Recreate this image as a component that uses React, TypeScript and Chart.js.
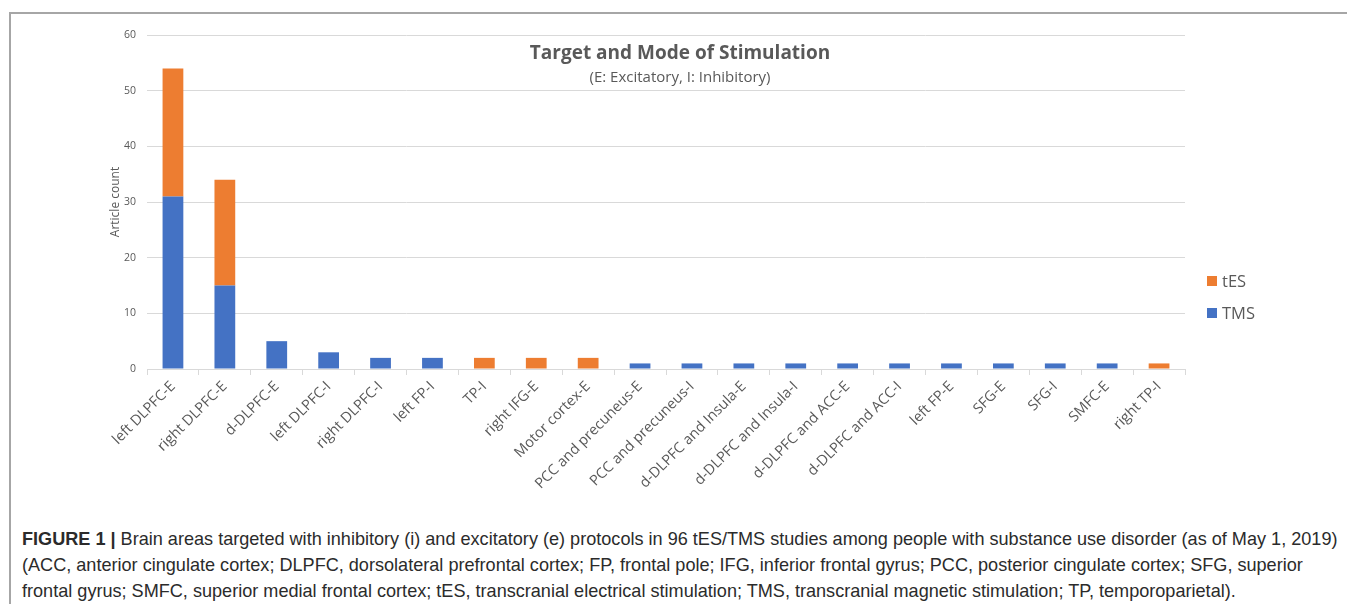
import React, { useEffect, useRef } from "react";
import { Chart, registerables } from "chart.js";

Chart.register(...registerables);

const categories: string[] = [
  "left DLPFC-E",
  "right DLPFC-E",
  "d-DLPFC-E",
  "left DLPFC-I",
  "right DLPFC-I",
  "left FP-I",
  "TP-I",
  "right IFG-E",
  "Motor cortex-E",
  "PCC and precuneus-E",
  "PCC and precuneus-I",
  "d-DLPFC and Insula-E",
  "d-DLPFC and Insula-I",
  "d-DLPFC and ACC-E",
  "d-DLPFC and ACC-I",
  "left FP-E",
  "SFG-E",
  "SFG-I",
  "SMFC-E",
  "right TP-I",
];

const tmsValues: number[] = [31, 15, 5, 3, 2, 2, 0, 0, 0, 1, 1, 1, 1, 1, 1, 1, 1, 1, 1, 0];
const tesValues: number[] = [23, 19, 0, 0, 0, 0, 2, 2, 2, 0, 0, 0, 0, 0, 0, 0, 0, 0, 0, 1];

const yMin = 0;
const yMax = 60;
const yStep = 10;

const chartTitle = "Target and Mode of Stimulation";
const chartSubtitle = "(E: Excitatory, I: Inhibitory)";
const yAxisTitle = "Article count";

const seriesLabels = { tms: "TMS", tes: "tES" };
const seriesColors = { tms: "#4472C4", tes: "#ED7D31" };

const captionLines: string[] = [
  " Brain areas targeted with inhibitory (i) and excitatory (e) protocols in 96 tES/TMS studies among people with substance use disorder (as of May 1, 2019)",
  "(ACC, anterior cingulate cortex; DLPFC, dorsolateral prefrontal cortex; FP, frontal pole; IFG, inferior frontal gyrus; PCC, posterior cingulate cortex; SFG, superior",
  "frontal gyrus; SMFC, superior medial frontal cortex; tES, transcranial electrical stimulation; TMS, transcranial magnetic stimulation; TP, temporoparietal).",
];
const captionLead = "FIGURE 1 |";

const titlePlugin = {
  id: "overlayTitle",
  afterDraw(chart: any) {
    const ctx = chart.ctx;
    ctx.save();
    ctx.textAlign = "center";
    ctx.textBaseline = "middle";
    ctx.fillStyle = "#595959";
    const cx = chart.width / 2 - 1;
    ctx.font = "bold 19px 'Open Sans'";
    ctx.fillText(chartTitle, cx, 40);
    ctx.font = "15px 'Open Sans'";
    ctx.fillText(chartSubtitle, cx, 64);
    ctx.restore();
  },
};

export default function App() {
  const canvasRef = useRef<HTMLCanvasElement | null>(null);

  useEffect(() => {
    if (!canvasRef.current) return;
    const chart = new Chart(canvasRef.current, {
      type: "bar",
      data: {
        labels: categories,
        datasets: [
          {
            label: seriesLabels.tms,
            data: tmsValues,
            backgroundColor: seriesColors.tms,
            barPercentage: 0.8,
            categoryPercentage: 0.5,
          },
          {
            label: seriesLabels.tes,
            data: tesValues,
            backgroundColor: seriesColors.tes,
            barPercentage: 0.8,
            categoryPercentage: 0.5,
          },
        ],
      },
      options: {
        animation: false,
        responsive: false,
        maintainAspectRatio: false,
        layout: { padding: { left: 94, right: 166, top: 21, bottom: 0 } },
        plugins: {
          legend: { display: false },
          tooltip: { enabled: false },
        },
        scales: {
          x: {
            stacked: true,
            grid: {
              display: true,
              drawOnChartArea: false,
              drawTicks: true,
              tickLength: 6,
              color: "#d9d9d9",
              offset: true,
            },
            border: { display: true, color: "#d9d9d9" },
            ticks: {
              autoSkip: false,
              maxRotation: 45,
              minRotation: 45,
              color: "#595959",
              font: { family: "'Open Sans'", size: 14.5 },
              padding: 3,
            },
            afterFit: (s: any) => {
              s.height = 131;
            },
          },
          y: {
            stacked: true,
            min: yMin,
            max: yMax,
            ticks: {
              stepSize: yStep,
              color: "#595959",
              font: { family: "'Open Sans'", size: 10.5 },
              padding: 11,
            },
            grid: { color: "#d9d9d9", drawTicks: false },
            border: { display: false },
            title: {
              display: true,
              text: yAxisTitle,
              color: "#595959",
              font: { family: "'Open Sans'", size: 12 },
              padding: { top: 3, bottom: 3 },
            },
            afterFit: (s: any) => {
              s.width = 42;
            },
          },
        },
      },
      plugins: [titlePlugin],
    });
    return () => chart.destroy();
  }, []);

  const legendItems = [
    { label: seriesLabels.tes, color: seriesColors.tes, top: 257 },
    { label: seriesLabels.tms, color: seriesColors.tms, top: 289 },
  ];

  return (
    <div
      style={{
        position: "relative",
        boxSizing: "border-box",
        marginTop: 4,
        marginLeft: 1,
        width: 1346,
        height: 620,
        border: "2px solid #a6a6a6",
        background: "#fff",
      }}
    >
      <canvas
        ref={canvasRef}
        width={1340}
        height={486}
        style={{ position: "absolute", left: 0, top: 0, width: 1340, height: 486 }}
      />
      {legendItems.map((it) => (
        <div
          key={it.label}
          style={{
            position: "absolute",
            left: 1196,
            top: it.top,
            display: "flex",
            alignItems: "center",
            fontFamily: "'Open Sans'",
            fontSize: 16.5,
            color: "#595959",
            lineHeight: "20px",
          }}
        >
          <span
            style={{
              display: "inline-block",
              width: 10,
              height: 10,
              background: it.color,
              marginRight: 5,
            }}
          />
          {it.label}
        </div>
      ))}
      <div
        style={{
          position: "absolute",
          left: 11,
          top: 512,
          fontFamily: "'Liberation Sans', Arial, sans-serif",
          fontSize: 18.1,
          lineHeight: "26px",
          color: "#2b2b2b",
          whiteSpace: "nowrap",
        }}
      >
        <div>
          <b>{captionLead}</b>
          {captionLines[0]}
        </div>
        <div>{captionLines[1]}</div>
        <div>{captionLines[2]}</div>
      </div>
    </div>
  );
}
